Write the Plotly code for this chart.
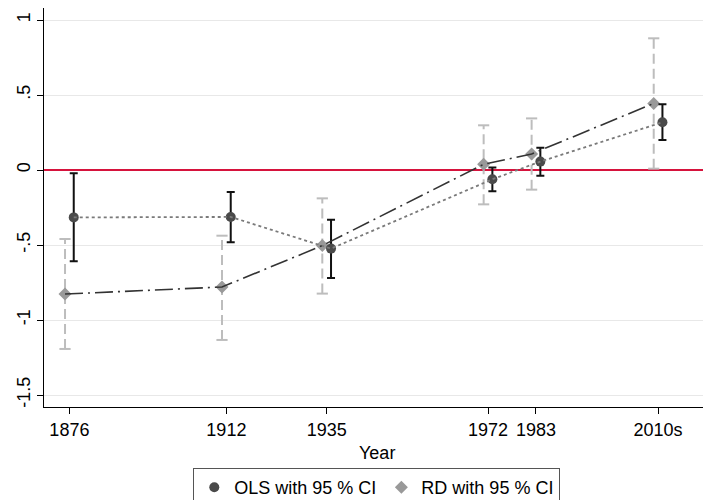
import plotly.graph_objects as go

# ---- data ----
years = [1876, 1912, 1935, 1972, 1983, 2011]
year_labels = ["1876", "1912", "1935", "1972", "1983", "2010s"]

ols = [-0.316, -0.313, -0.524, -0.062, 0.056, 0.318]
ols_lo = [-0.609, -0.482, -0.720, -0.142, -0.038, 0.200]
ols_hi = [-0.022, -0.147, -0.331, 0.016, 0.149, 0.438]

rd = [-0.827, -0.780, -0.504, 0.038, 0.107, 0.444]
rd_lo = [-1.193, -1.133, -0.824, -0.229, -0.131, 0.009]
rd_hi = [-0.460, -0.438, -0.189, 0.298, 0.344, 0.878]

y_ticks = [1, 0.5, 0, -0.5, -1, -1.5]
y_ticklabels = ["1", ".5", "0", "-.5", "-1", "-1.5"]

FONT = "Liberation Sans, Arial, sans-serif"
FS = 18

x_ols = [y + 1 for y in years]
x_rd = [y - 1 for y in years]

fig = go.Figure()

# RD dashed CI bars
vx, vy = [], []
for x, lo, hi in zip(x_rd, rd_lo, rd_hi):
    vx += [x, x, None]
    vy += [lo, hi, None]
fig.add_trace(go.Scatter(x=vx, y=vy, mode="lines", showlegend=False, hoverinfo="skip",
                         line=dict(color="#bdbdbd", width=2, dash="10px,5px")))
# RD caps
fig.add_trace(go.Scatter(x=x_rd + x_rd, y=rd_lo + rd_hi, mode="markers", showlegend=False,
                         hoverinfo="skip",
                         marker=dict(symbol="line-ew", size=8,
                                     line=dict(color="#bdbdbd", width=2))))

# RD markers
fig.add_trace(go.Scatter(x=x_rd, y=rd, mode="markers", name="RD with 95 % CI",
                         marker=dict(symbol="diamond", size=10, color="#999999",
                                     line=dict(width=0))))

# OLS markers with solid CI
fig.add_trace(go.Scatter(
    x=x_ols, y=ols, mode="markers", name="OLS with 95 % CI",
    marker=dict(symbol="circle", size=10, color="#4a4a4a", line=dict(width=0)),
    error_y=dict(type="data", symmetric=False,
                 array=[h - v for h, v in zip(ols_hi, ols)],
                 arrayminus=[v - l for v, l in zip(ols, ols_lo)],
                 color="#111111", thickness=2, width=4)))

# connecting lines (drawn on top)
fig.add_trace(go.Scatter(x=x_ols, y=ols, mode="lines", showlegend=False, hoverinfo="skip",
                         line=dict(color="#7a7a7a", width=1.8, dash="3px,3px")))
fig.add_trace(go.Scatter(x=x_rd, y=rd, mode="lines", showlegend=False, hoverinfo="skip",
                         line=dict(color="#333333", width=1.6, dash="18px,5px,2px,5px")))

fig.update_layout(
    width=703, height=500, autosize=False,
    margin=dict(l=44, r=0, t=8, b=93, autoexpand=False),
    plot_bgcolor="white", paper_bgcolor="white",
    font=dict(family=FONT, size=FS, color="black"),
    legend=dict(orientation="h", x=0.505, xanchor="center", y=-0.153, yanchor="top",
                bgcolor="white", bordercolor="#555555", borderwidth=1,
                font=dict(family=FONT, size=FS, color="black"),
                traceorder="reversed", itemsizing="trace"),
    xaxis=dict(range=[1870.18, 2021.3], tickmode="array", tickvals=years,
               ticktext=year_labels, showgrid=False, zeroline=False,
               showline=True, linecolor="black", linewidth=1,
               ticks="outside", ticklen=6, tickcolor="black",
               tickfont=dict(family=FONT, size=FS, color="black")),
    yaxis=dict(range=[-1.58, 1.08], tickmode="array", tickvals=y_ticks,
               ticktext=y_ticklabels, tickangle=-90,
               showgrid=True, gridcolor="#e8e8e8", gridwidth=1,
               zeroline=True, zerolinecolor="#d6133d", zerolinewidth=1.6,
               showline=True, linecolor="black", linewidth=1,
               ticks="outside", ticklen=6, tickcolor="black",
               tickfont=dict(family=FONT, size=FS, color="black")),
    annotations=[dict(text="Year", xref="paper", yref="paper", x=0.505, y=-0.115,
                      xanchor="center", yanchor="middle", showarrow=False,
                      font=dict(family=FONT, size=FS, color="black"))],
)

fig.write_html("out.html")
